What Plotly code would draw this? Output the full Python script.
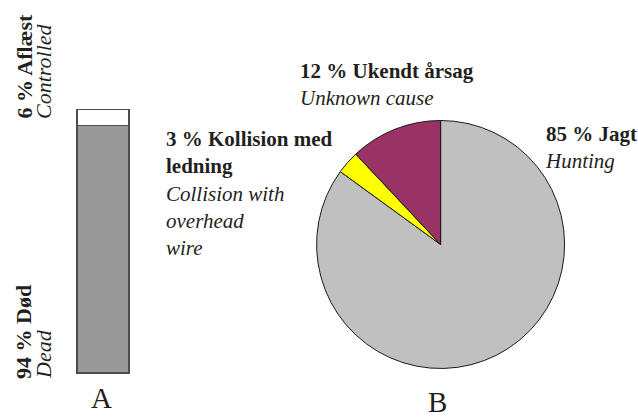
import plotly.graph_objects as go

# ---- data ----
bar_status = ["Død", "Aflæst"]
bar_values = [94, 6]
bar_colors = ["#999999", "#ffffff"]

pie_labels = ["Jagt", "Kollision med ledning", "Ukendt årsag"]
pie_values = [85, 3, 12]
pie_colors = ["#c0c0c0", "#ffff00", "#993366"]

W, H = 638, 418
FONT = "Liberation Serif"
TXT = "#231f20"


def px(x):
    return x / W


def py(y):
    return 1 - y / H


fig = go.Figure()

for name, val, col in zip(bar_status, bar_values, bar_colors):
    fig.add_trace(go.Bar(
        x=["A"], y=[val], name=name,
        marker=dict(color=col, line=dict(color="#4d4d4d", width=1.5)),
        showlegend=False, hoverinfo="name+y",
    ))

fig.add_trace(go.Pie(
    labels=pie_labels, values=pie_values, sort=False,
    direction="clockwise", rotation=0,
    marker=dict(colors=pie_colors, line=dict(color="#1a1a1a", width=1)),
    textinfo="none", showlegend=False,
    domain=dict(x=[px(440.6 - 124), px(440.6 + 124)],
                y=[py(244.5 + 124), py(244.5 - 124)]),
))

ann = []


def add(text, x, y, size=21, xanchor="left", yanchor="top", angle=0):
    ann.append(dict(text=text, x=px(x), y=py(y), xref="paper", yref="paper",
                    xanchor=xanchor, yanchor=yanchor, textangle=angle,
                    showarrow=False, align="left",
                    font=dict(family=FONT, size=size, color=TXT)))


# pie labels
add("<b>12 % Ukendt årsag</b><br><i>Unknown cause</i>", 298, 57)
add("<b>3 % Kollision med</b><br><b>ledning</b><br><i>Collision with</i><br>"
    "<i>overhead</i><br><i>wire</i>", 164, 124.5)
add("<b>85 % Jagt</b><br><i>Hunting</i>", 543, 120)

# bar labels (rotated)
add("<b>6 % Aflæst</b>", 24, 121, size=22, xanchor="center", yanchor="bottom", angle=-90)
add("<i>Controlled</i>", 43, 121, size=22, xanchor="center", yanchor="bottom", angle=-90)
add("<b>94 % Død</b>", 23, 381, size=22, xanchor="center", yanchor="bottom", angle=-90)
add("<i>Dead</i>", 43, 381, size=22, xanchor="center", yanchor="bottom", angle=-90)

# panel letters
add("A", 101, 398, size=29, xanchor="center", yanchor="middle")
add("B", 437, 402, size=29, xanchor="center", yanchor="middle")

# axis mapping: bar spans x 77..129 px, y 373 (0%) .. 109.7 (100%) px
ppu = (373 - 109.7) / 100.0
pad = 3
fig.update_layout(
    width=W, height=H,
    margin=dict(l=0, r=0, t=0, b=0),
    paper_bgcolor="white", plot_bgcolor="rgba(0,0,0,0)",
    barmode="stack", bargap=1 - 52 / 62,
    annotations=ann,
    xaxis=dict(domain=[px(72), px(134)], type="category",
               showticklabels=False, showgrid=False, zeroline=False,
               showline=False, ticks=""),
    yaxis=dict(domain=[py(373 + pad * ppu), py(109.7 - pad * ppu)],
               range=[-pad, 100 + pad],
               showticklabels=False, showgrid=False, zeroline=False,
               showline=False, ticks=""),
    font=dict(family=FONT, color=TXT),
)

fig.write_html("out.html",
               config={"displayModeBar": False},
               post_script="document.body.style.margin='0';"
                           "document.body.style.overflow='hidden';")
